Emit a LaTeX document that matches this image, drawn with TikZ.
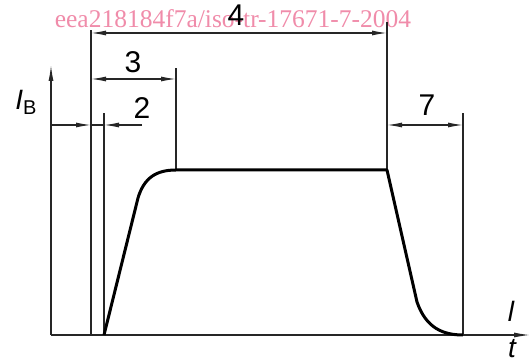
\documentclass[tikz,border=0pt]{standalone}
\usepackage{fontspec}
\setmainfont{Liberation Sans}
\newfontfamily\markfont{Liberation Serif}
\usetikzlibrary{arrows.meta}
\definecolor{markpink}{HTML}{F08CAA}

\begin{document}
\begin{tikzpicture}[x=1pt,y=-1pt,
  thinline/.style={line width=1.2pt,black!85},
  dimarr/.style={thinline,-{Latex[length=15pt,width=5pt]}},
  dimboth/.style={thinline,{Latex[length=15pt,width=5pt]}-{Latex[length=15pt,width=5pt]}},
  axis/.style={thinline,-{Latex[length=16pt,width=5pt]}},
  pulse/.style={line width=3pt,line join=round},
  lbl/.style={inner sep=0pt,font=\fontsize{30}{30}\selectfont},
  axlbl/.style={inner sep=0pt,font=\fontsize{28}{28}\selectfont\itshape},
  wmark/.style={inner sep=0pt,text=markpink,font=\markfont\fontsize{25.5}{25.5}\selectfont}]

  \useasboundingbox (0,0) rectangle (530,363);

  % watermark
  \node[wmark] (wm) at (233,19) {eea218184f7a/iso-tr-17671-7-2004};

  % axes
  \coordinate (o) at (51,335);
  \coordinate (ytip) at (51,65);
  \coordinate (xtip) at (530,335);
  \draw[axis] (o) -- (ytip);
  \draw[axis] (o) -- (xtip);

  % extension lines
  \coordinate (a0) at (91,335);  \coordinate (a1) at (91,30);
  \coordinate (b0) at (104,335); \coordinate (b1) at (104,113);
  \coordinate (c0) at (176,170); \coordinate (c1) at (176,68);
  \coordinate (d0) at (387,170); \coordinate (d1) at (387,22);
  \coordinate (e0) at (463,335); \coordinate (e1) at (463,113);
  \draw[thinline] (a0) -- (a1);
  \draw[thinline] (b0) -- (b1);
  \draw[thinline] (c0) -- (c1);
  \draw[thinline] (d0) -- (d1);
  \draw[thinline] (e0) -- (e1);

  % dimension lines
  \coordinate (a4) at (91,33);   \coordinate (d4) at (387,33);
  \coordinate (a3) at (91,79);   \coordinate (c3) at (176,79);
  \coordinate (y2) at (51,125);  \coordinate (a2) at (91,125);
  \coordinate (b2) at (104,125); \coordinate (f2) at (142,125);
  \coordinate (d7) at (387,125); \coordinate (e7) at (463,125);
  \draw[dimboth] (a4) -- (d4);
  \draw[dimboth] (a3) -- (c3);
  \draw[dimarr] (y2) -- (a2);
  \draw[thinline] (a2) -- (b2);
  \draw[dimarr] (f2) -- (b2);
  \draw[dimboth] (d7) -- (e7);

  \node[lbl] (n4) at (236,15) {4};
  \node[lbl] (n3) at (133,62) {3};
  \node[lbl] (n2) at (142,108) {2};
  \node[lbl] (n7) at (427,105) {7};

  % axis labels
  \node[axlbl] (ib) at (26,102) {I\/\raisebox{-5pt}{\upshape\fontsize{20}{20}\selectfont B}};
  \node[axlbl] (nl) at (511,311) {l};
  \node[axlbl] (nt) at (512,349) {t};

  % current pulse
  \draw[pulse] (b0) -- (138,198) .. controls (144,178) and (156,170) .. (c0)
    -- (d0) -- (417,302) .. controls (426,328) and (443,335) .. (e0);
\end{tikzpicture}
\end{document}
